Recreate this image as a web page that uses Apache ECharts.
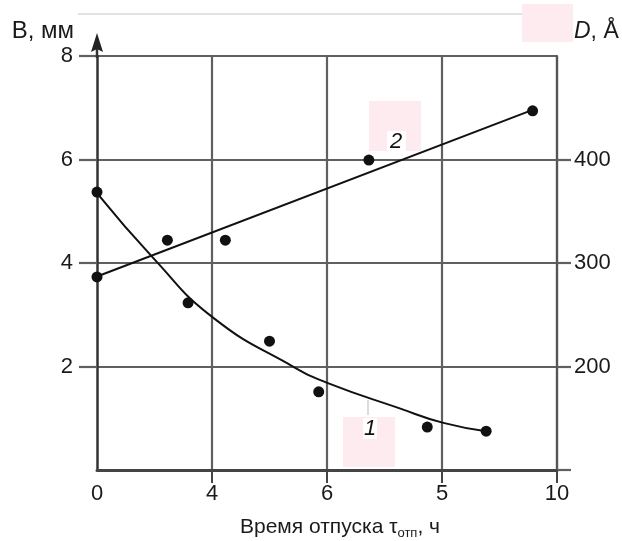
<!DOCTYPE html>
<html>
<head>
<meta charset="utf-8">
<script src="https://cdn.jsdelivr.net/npm/echarts@6/dist/echarts.min.js"></script>
<style>
html,body{margin:0;padding:0;background:#fff;}
#c{width:622px;height:541px;}
</style>
</head>
<body>
<div id="c"></div>
<script>
// ---- data ----
var xTickLabels = ['0', '4', '6', '5', '10'];
var leftTicks = [2, 4, 6, 8];
var rightTickLabels = [200, 300, 400];

// curve 1 : B, mm (left axis) measured points
var b_x = [0, 1.98, 3.75, 4.82, 7.18, 8.46];
var b_y = [5.37, 3.23, 2.49, 1.51, 0.83, 0.75];
// curve 1 : drawn smooth curve
var b_curve_x = [0, 1.22, 2.53, 4.28, 5.02, 6.55, 7.53, 8.46];
var b_curve_y = [5.35, 4.10, 2.94, 1.99, 1.68, 1.20, 0.91, 0.75];

// curve 2 : D, Å (right axis) measured points
var d_x = [0, 1.53, 2.79, 5.91, 9.47];
var d_y = [286.5, 322, 322, 399.5, 447];
// curve 2 : drawn straight line ends
var d_line_x = [0, 9.47];
var d_line_y = [287, 448];

function pairs(xs, ys) { return xs.map(function (x, i) { return [x, ys[i]]; }); }

var FONT = '"Liberation Sans", Arial, sans-serif';
var AX = '#333333';
var GRID = '#606060';
var INK = '#111111';
var TXT = '#1a1a1a';

var chart = echarts.init(document.getElementById('c'), null, {renderer: 'canvas'});
chart.setOption({
  animation: false,
  backgroundColor: '#ffffff',
  grid: {left: 97, right: 65, top: 56, bottom: 71, outerBoundsMode: 'none', containLabel: false},
  xAxis: {
    type: 'value', min: 0, max: 10, interval: 2.5,
    name: '{a|Время отпуска τ}{s|отп}{a|, ч}',
    nameLocation: 'middle', nameGap: 44,
    nameTextStyle: {
      rich: {
        a: {fontSize: 21, fontFamily: FONT, color: TXT, lineHeight: 26},
        s: {fontSize: 13, fontFamily: FONT, color: TXT, lineHeight: 26, verticalAlign: 'bottom', padding: [16, 0, 0, 0]}
      },
      padding: [0, 0, 0, 26]
    },
    axisLine: {show: true, lineStyle: {color: '#444', width: 3}},
    axisTick: {show: true, length: 13, customValues: [2.5, 5, 7.5, 10], lineStyle: {color: '#444', width: 2}},
    axisLabel: {
      show: true, margin: 13, fontSize: 22, fontFamily: FONT, color: TXT,
      formatter: function (v) { var i = Math.round(v / 2.5); return xTickLabels[i] || ''; }
    },
    splitLine: {show: true, lineStyle: {color: GRID, width: 2.2}}
  },
  yAxis: [
    {
      type: 'value', position: 'left', min: 0, max: 8, interval: 2,
      name: 'B, мм', nameLocation: 'end', nameGap: 25,
      nameTextStyle: {fontSize: 24, fontFamily: FONT, color: TXT, align: 'right', verticalAlign: 'middle', padding: [0, 23, 0, 0]},
      axisLine: {show: true, lineStyle: {color: AX, width: 2.5}},
      axisTick: {show: true, length: 18, customValues: leftTicks, lineStyle: {color: GRID, width: 2.2}},
      axisLabel: {show: true, margin: 24, fontSize: 22, fontFamily: FONT, color: TXT, customValues: leftTicks},
      splitLine: {show: true, lineStyle: {color: GRID, width: 2.2}}
    },
    {
      type: 'value', position: 'right', min: 100, max: 500, interval: 100,
      name: '{d|D}{r|, Å}', nameLocation: 'end', nameGap: 24,
      nameTextStyle: {
        align: 'left', verticalAlign: 'middle', padding: [0, 0, 0, 17],
        rich: {
          d: {fontSize: 23, fontFamily: FONT, fontStyle: 'italic', color: TXT},
          r: {fontSize: 23, fontFamily: FONT, color: TXT}
        }
      },
      axisLine: {show: true, lineStyle: {color: '#555', width: 2.2}},
      axisTick: {show: true, length: 14, customValues: [100, 200, 300, 400], lineStyle: {color: GRID, width: 2.2}},
      axisLabel: {show: true, margin: 17, fontSize: 22, fontFamily: FONT, color: TXT, customValues: rightTickLabels},
      splitLine: {show: false}
    }
  ],
  graphic: [
    // faint scan line at top
    {type: 'line', z: -10, shape: {x1: 78, y1: 14, x2: 523, y2: 14}, style: {stroke: '#e2e2e2', lineWidth: 2}},
    // pink patches
    {type: 'rect', z: -5, shape: {x: 522, y: 4, width: 51, height: 38}, style: {fill: '#fdebf0'}},
    {type: 'rect', z: 1, shape: {x: 369, y: 101, width: 52, height: 50}, style: {fill: '#fdebf0'}},
    {type: 'rect', z: 1, shape: {x: 343, y: 417, width: 52, height: 50}, style: {fill: '#fdebf0'}},
    {type: 'rect', z: 2, shape: {x: 387, y: 131, width: 19, height: 20}, style: {fill: '#ffffff'}},
    {type: 'rect', z: 2, shape: {x: 363, y: 418, width: 14, height: 21}, style: {fill: '#ffffff'}},
    {type: 'line', z: 2, shape: {x1: 368, y1: 400, x2: 368, y2: 415}, style: {stroke: '#b8b8b8', lineWidth: 1}},
    // curve labels
    {type: 'text', z: 3, style: {text: '2', x: 396, y: 142, font: 'italic 22px ' + FONT, fill: '#111', textAlign: 'center', textVerticalAlign: 'middle'}},
    {type: 'text', z: 3, style: {text: '1', x: 370, y: 429, font: 'italic 22px ' + FONT, fill: '#111', textAlign: 'center', textVerticalAlign: 'middle'}},
    // left axis arrow
    {type: 'line', z: 5, shape: {x1: 97, y1: 58, x2: 97, y2: 46}, style: {stroke: AX, lineWidth: 2.5}},
    {type: 'polygon', z: 5, shape: {points: [[97, 33], [91, 52], [97, 49], [103, 52]]}, style: {fill: '#222'}}
  ],
  series: [
    {
      type: 'line', yAxisIndex: 0, smooth: 0.5, symbol: 'none',
      data: pairs(b_curve_x, b_curve_y),
      lineStyle: {color: INK, width: 2}, z: 4
    },
    {
      type: 'line', yAxisIndex: 1, symbol: 'none',
      data: pairs(d_line_x, d_line_y),
      lineStyle: {color: INK, width: 2}, z: 4
    },
    {
      type: 'scatter', yAxisIndex: 0, symbol: 'circle', symbolSize: 11,
      data: pairs(b_x, b_y), itemStyle: {color: INK, opacity: 1}, z: 5
    },
    {
      type: 'scatter', yAxisIndex: 1, symbol: 'circle', symbolSize: 11,
      data: pairs(d_x, d_y), itemStyle: {color: INK, opacity: 1}, z: 5
    }
  ]
});
</script>
</body>
</html>
